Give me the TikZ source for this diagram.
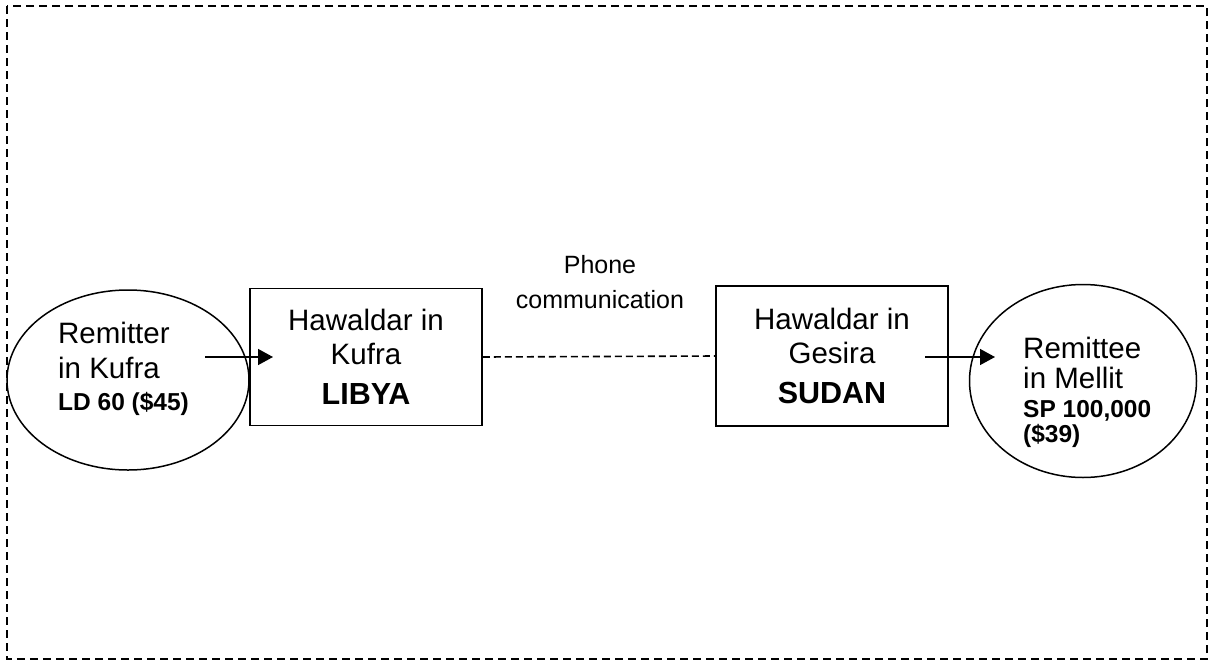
\documentclass[tikz,border=0pt]{standalone}
\usepackage{fontspec}
\setmainfont{Liberation Sans}
\usetikzlibrary{arrows.meta,shapes.geometric}
\tikzset{
  frameline/.style={line width=1.6pt, dash pattern=on 8pt off 5pt},
  phoneline/.style={line width=1.6pt, dash pattern=on 7pt off 4pt},
  party/.style={draw, ellipse, line width=1.5pt, inner sep=0pt},
  hawbox/.style={draw, rectangle, line width=1.5pt, inner sep=0pt, align=center,
     font=\fontsize{29.5}{34}\selectfont},
  lbl/.style={inner sep=0pt, align=left, font=\fontsize{29.5}{35}\selectfont},
  flow/.style={line width=1.5pt, -{Triangle[length=15pt,width=16pt]}},
}
\begin{document}
\begin{tikzpicture}[x=1pt,y=-1pt]
\useasboundingbox (0,0) rectangle (1216,662);
\draw[frameline] (7,6) rectangle (1207,659);

\node[party, minimum width=242pt, minimum height=180pt] (rem) at (128,380) {};
\node[party, minimum width=227pt, minimum height=193pt] (ree) at (1083,381) {};

\node[hawbox, minimum width=232pt, minimum height=137pt] (hk) at (366,357)
  {Hawaldar in\\Kufra\\[6pt]{\bfseries\fontsize{30.5}{34}\selectfont LIBYA}};
\node[hawbox, minimum width=232pt, minimum height=140pt] (hg) at (832,356)
  {Hawaldar in\\Gesira\\[6pt]{\bfseries\fontsize{30.5}{34}\selectfont SUDAN}};

\node[lbl, anchor=north west] (remtxt) at (58,322)
  {Remitter\\in Kufra\\[-3pt]{\bfseries\fontsize{24.5}{29}\selectfont LD 60 (\$45)}};
\node[lbl, anchor=north west, font=\fontsize{29.5}{30}\selectfont] (reetxt) at (1023,337)
  {Remittee\\in Mellit\\[-1pt]{\bfseries\fontsize{24.5}{25}\selectfont SP 100,000}\\[-5pt]{\bfseries\fontsize{24.5}{25}\selectfont (\$39)}};

\node[inner sep=0pt, align=center, font=\fontsize{25}{35}\selectfont, anchor=north] (phone) at (600,255)
  {Phone\\communication};

\draw[phoneline] (hk.east) -- (hg.west);

\coordinate (a1s) at (205,357);
\coordinate (a1e) at (273,357);
\coordinate (a2s) at (925,357);
\coordinate (a2e) at (995,357);
\draw[flow] (a1s) -- (a1e);
\draw[flow] (a2s) -- (a2e);
\end{tikzpicture}
\end{document}
